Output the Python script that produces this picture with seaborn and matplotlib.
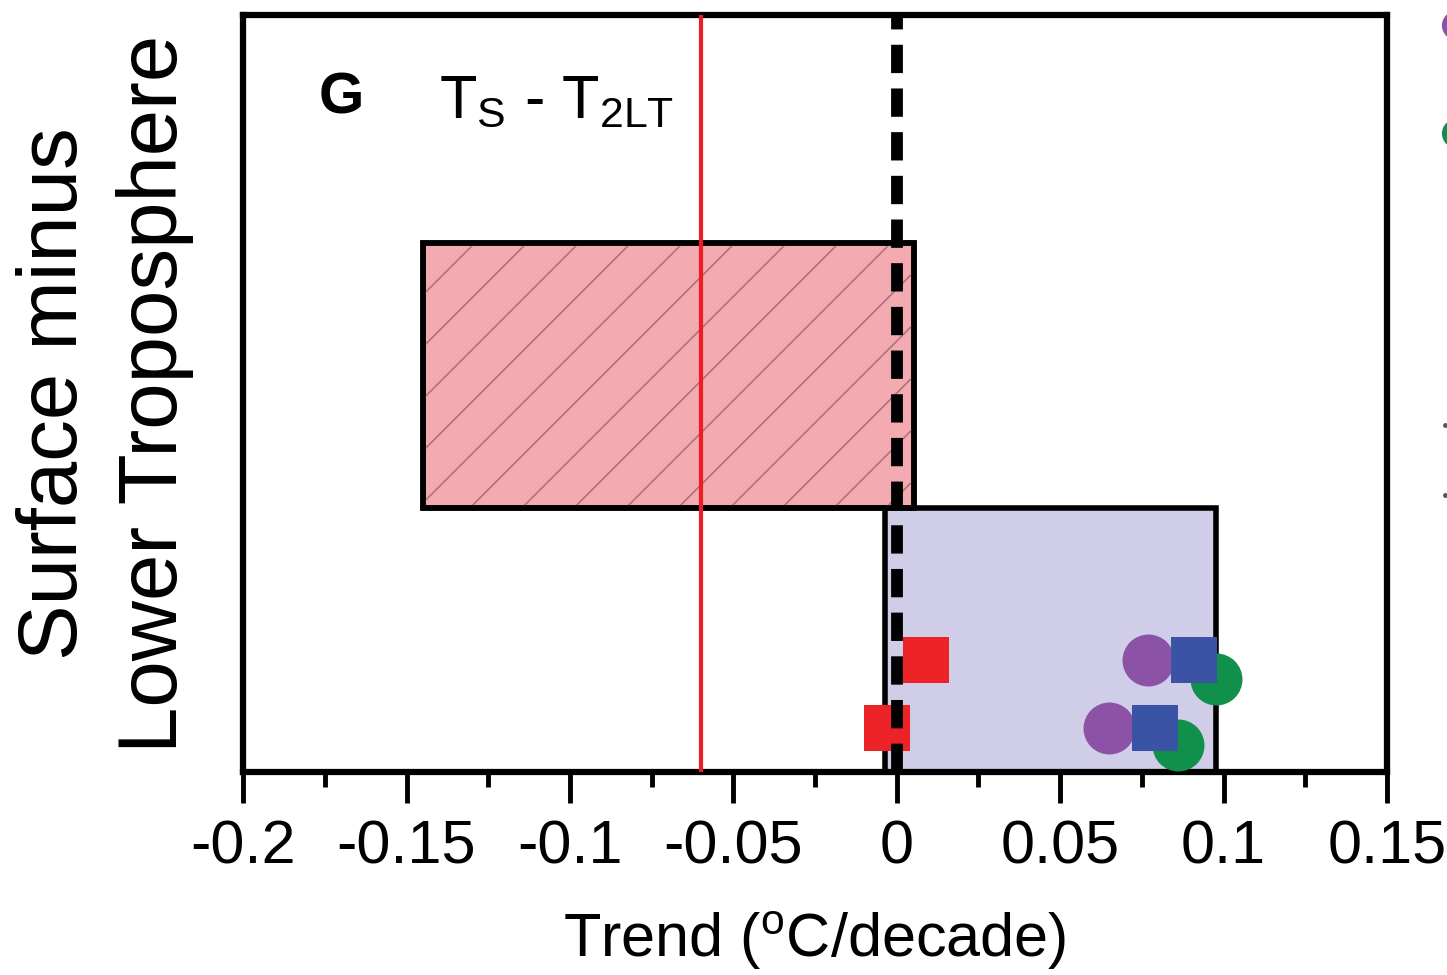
import matplotlib
matplotlib.use('Agg')
import matplotlib.pyplot as plt
import numpy as np
import seaborn as sns

# bar extents (trend, oC/decade) and vertical spans
bar_left = [-0.145, -0.0037]
bar_right = [0.0052, 0.0978]
bar_bottom = [0.349, 0.0]
bar_top = [0.699, 0.349]
bar_colors = ['#F4AAB1', '#CFCDE8']
bar_hatched = [True, False]

# observed / reanalysis trends (x) and their row positions (y)
red_x = [0.0089, -0.003]
red_y = [0.148, 0.059]
purple_x = [0.0769, 0.0649]
purple_y = [0.148, 0.059]
blue_x = [0.0911, 0.0791]
blue_y = [0.148, 0.059]
green_x = [0.0976, 0.0862]
green_y = [0.123, 0.036]

model_mean = -0.060

xticks = [-0.2, -0.15, -0.1, -0.05, 0, 0.05, 0.1, 0.15]
xtick_labels = ['-0.2', '-0.15', '-0.1', '-0.05', '0', '0.05', '0.1', '0.15']

sns.set_style('ticks')
plt.rcParams['font.family'] = ['Liberation Sans', 'DejaVu Sans']
plt.rcParams['text.color'] = 'black'
plt.rcParams['axes.labelcolor'] = 'black'
plt.rcParams['xtick.color'] = 'black'
plt.rcParams['axes.edgecolor'] = 'black'

fig = plt.figure(figsize=(14.47, 9.75), dpi=100)
ax = fig.add_axes([0.168, 0.208, 0.7905, 0.7765])
ax.set_xlim(-0.2, 0.15)
ax.set_ylim(0, 1)

# pixels per data unit, for the sparse 45 degree hatch
px_x = 0.7905 * 1447 / 0.35
px_y = 0.7765 * 975 / 1.0

for i in range(2):
    bars = ax.barh(y=(bar_bottom[i] + bar_top[i]) / 2, width=bar_right[i] - bar_left[i],
                   left=bar_left[i], height=bar_top[i] - bar_bottom[i],
                   color=bar_colors[i], edgecolor='black', linewidth=4, zorder=1)
    if bar_hatched[i]:
        patch = bars.patches[0]
        step = 52 / px_x
        h = (bar_top[i] - bar_bottom[i]) * px_y / px_x
        for x0 in np.arange(bar_left[i] - h, bar_right[i] + step, step):
            ln, = ax.plot([x0, x0 + h], [bar_bottom[i], bar_top[i]],
                          color='#AE737B', linewidth=1.2, zorder=1.5)
            ln.set_clip_path(patch)
        # redraw the outline on top of the hatch
        ax.barh(y=(bar_bottom[i] + bar_top[i]) / 2, width=bar_right[i] - bar_left[i],
                left=bar_left[i], height=bar_top[i] - bar_bottom[i],
                fill=False, edgecolor='black', linewidth=4, zorder=1.6)

sns.scatterplot(x=red_x, y=red_y, marker='s', color='#EC2227', s=1100, linewidth=0, ax=ax, zorder=3)
sns.scatterplot(x=green_x, y=green_y, marker='o', color='#10904A', s=1400, linewidth=0, ax=ax, zorder=3)
sns.scatterplot(x=purple_x, y=purple_y, marker='o', color='#8C52A5', s=1400, linewidth=0, ax=ax, zorder=3)
sns.scatterplot(x=blue_x, y=blue_y, marker='s', color='#3A53A4', s=1100, linewidth=0, ax=ax, zorder=3)

ax.axvline(model_mean, color='#EE1C24', linewidth=3, zorder=4)
ax.axvline(0, color='black', linewidth=8.5, linestyle=(0, (2.4, 1.3)), zorder=5)

ax.set_xlim(-0.2, 0.15)
ax.set_ylim(0, 1)
ax.set_xticks(xticks)
ax.set_xticklabels(xtick_labels, fontsize=44)
ax.set_xticks([-0.175, -0.125, -0.075, -0.025, 0.025, 0.075, 0.125], minor=True)
ax.tick_params(axis='x', which='major', direction='out', length=22, width=3.5, pad=12)
ax.tick_params(axis='x', which='minor', direction='out', length=11, width=3.5)
ax.set_yticks([])
for sp in ax.spines.values():
    sp.set_linewidth(4.5)
    sp.set_color('black')
    sp.set_visible(True)

ax.set_xlabel(r'Trend ($\mathregular{^o}$C/decade)', fontsize=44, labelpad=24)
ax.set_ylabel('Surface minus\nLower Troposphere', fontsize=60, labelpad=35, linespacing=1.37)

ax.text(-0.177, 0.89, 'G', fontsize=42, fontweight='bold', va='center', ha='left')
ax.text(-0.14, 0.885, r'$\mathregular{T_S}$ - $\mathregular{T_{2LT}}$', fontsize=44,
        va='center', ha='left')

# legend markers cut off at the right edge of the figure
fig.lines.append(plt.Line2D([1.006], [1 - 25 / 975], marker='o', markersize=20,
                            color='#8C52A5', transform=fig.transFigure))
fig.lines.append(plt.Line2D([1.006], [1 - 133 / 975], marker='o', markersize=20,
                            color='#10904A', transform=fig.transFigure))
fig.lines.append(plt.Line2D([0.9985, 0.9985], [1 - 425 / 975, 1 - 495 / 975], marker='o',
                            markersize=2.5, linestyle='none', color='#555555',
                            transform=fig.transFigure))

fig.savefig('out.png', dpi=100)
